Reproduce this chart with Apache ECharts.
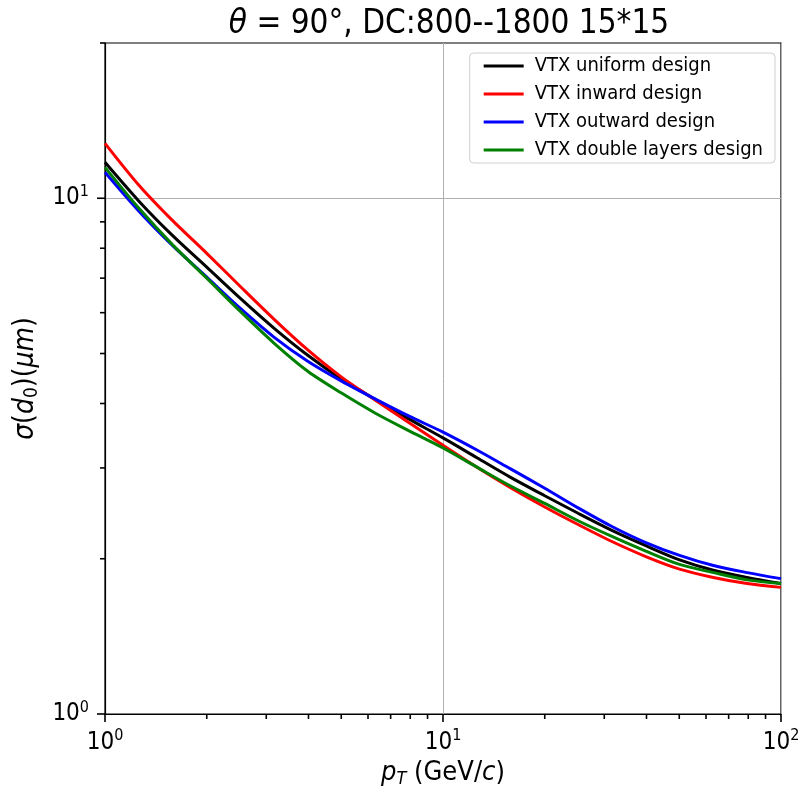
<!DOCTYPE html>
<html lang="en">
<head>
  <meta charset="utf-8">
  <title>sigma d0 vs pT</title>
  <script type="text/javascript" src="https://fastly.jsdelivr.net/npm/echarts@6/dist/echarts.min.js"></script>
  <style type="text/css">
    * { margin: 0; padding: 0; }
    html, body, #chart { width: 100%; height: 100%; overflow: hidden; background: #fff; }
  </style>
</head>
<body>
  <div id="chart"></div>
  <script type="text/javascript">
    // values (log-log), 10 points per decade
    const pT = [1, 1.26, 1.58, 2, 2.51, 3.16, 3.98, 5.01, 6.31, 7.94, 10, 12.6, 15.8, 20, 25.1, 31.6, 39.8, 50.1, 63.1, 79.4, 100];
    const uniformDesign = [11.74, 9.87, 8.48, 7.35, 6.40, 5.60, 4.96, 4.46, 4.07, 3.73, 3.43, 3.14, 2.88, 2.65, 2.45, 2.27, 2.12, 1.99, 1.90, 1.84, 1.79];
    const inwardDesign  = [12.78, 10.60, 9.07, 7.82, 6.75, 5.83, 5.08, 4.50, 4.06, 3.67, 3.32, 3.01, 2.75, 2.52, 2.33, 2.16, 2.02, 1.91, 1.84, 1.79, 1.76];
    const outwardDesign = [11.23, 9.44, 8.11, 7.03, 6.12, 5.38, 4.83, 4.42, 4.08, 3.78, 3.52, 3.25, 2.99, 2.74, 2.51, 2.31, 2.15, 2.03, 1.94, 1.88, 1.83];
    const doubleDesign  = [11.48, 9.56, 8.14, 7.00, 6.04, 5.24, 4.62, 4.19, 3.83, 3.54, 3.28, 3.01, 2.77, 2.56, 2.37, 2.21, 2.07, 1.95, 1.88, 1.82, 1.79];

    const seriesNames = ['VTX uniform design', 'VTX inward design', 'VTX outward design', 'VTX double layers design'];
    const seriesColors = ['#000000', '#ff0000', '#0000ff', '#008000'];

    const xMajorTicks = [1, 10, 100];
    const xMinorTicks = [2, 3, 4, 5, 6, 7, 8, 9, 20, 30, 40, 50, 60, 70, 80, 90];
    const yMajorTicks = [1, 10];
    const yMinorTicks = [2, 3, 4, 5, 6, 7, 8, 9, 20];

    const font = 'DejaVu Sans Condensed';

    function pairs(ys) {
      return pT.map((x, i) => [x, ys[i]]);
    }

    // 10^n labels with a raised exponent
    function powLabel(v) {
      return '{b|10}{s|' + Math.round(Math.log10(v)) + '}';
    }
    const powRich = {
      b: { fontSize: 24, fontFamily: font, color: '#000' },
      s: { fontSize: 16, fontFamily: font, color: '#000', padding: [0, 0, 13, 0] }
    };

    const allData = [uniformDesign, inwardDesign, outwardDesign, doubleDesign];
    const series = allData.map((d, i) => ({
      name: seriesNames[i],
      type: 'line',
      data: pairs(d),
      smooth: 0.3,
      showSymbol: false,
      symbol: 'none',
      lineStyle: { color: seriesColors[i], width: 3 },
      itemStyle: { color: seriesColors[i] },
      z: 3 + i
    }));

    const option = {
      animation: false,
      backgroundColor: '#fff',
      title: {
        text: '{i|θ} = 90°, DC:800--1800 15*15',
        left: 444,
        top: 3,
        textAlign: 'center',
        textStyle: {
          fontFamily: font, fontSize: 33, fontWeight: 'normal', color: '#000',
          rich: {
            i: { fontFamily: font, fontSize: 33, fontStyle: 'italic', color: '#000' }
          }
        }
      },
      legend: {
        data: seriesNames,
        orient: 'vertical',
        right: 30,
        top: 53,
        icon: 'rect',
        itemWidth: 40,
        itemHeight: 3,
        itemGap: 8,
        padding: [3, 12, 3, 14],
        borderColor: '#d0d0d0',
        borderWidth: 1,
        borderRadius: 4,
        backgroundColor: 'rgba(255,255,255,0.8)',
        textStyle: { fontFamily: font, fontSize: 20, color: '#000', padding: [0, 0, 0, 6] }
      },
      grid: {
        left: 105, right: 24, top: 43, bottom: 75,
        outerBoundsMode: 'none',
        containLabel: false,
        show: true, borderColor: '#000', borderWidth: 1.2, backgroundColor: 'transparent'
      },
      xAxis: {
        type: 'log', logBase: 10, min: 1, max: 100,
        name: '{i|p}{sub|T} (GeV/{i|c})',
        nameLocation: 'middle',
        nameGap: 44,
        nameTextStyle: {
          fontFamily: font, fontSize: 27, color: '#000',
          rich: {
            i: { fontFamily: font, fontSize: 27, fontStyle: 'italic', color: '#000' },
            sub: { fontFamily: font, fontSize: 18, fontStyle: 'italic', color: '#000', padding: [12, 0, 0, 0] }
          }
        },
        axisLine: { show: true, lineStyle: { color: '#000', width: 1.2 } },
        axisTick: { show: false, customValues: xMajorTicks },
        axisLabel: { customValues: xMajorTicks, formatter: powLabel, rich: powRich, margin: 14, hideOverlap: false },
        splitLine: { show: true, lineStyle: { color: '#b0b0b0', width: 1 } }
      },
      yAxis: {
        type: 'log', logBase: 10, min: 1, max: 20,
        name: '{i|σ}({i|d}{sub|0})({i|μm})',
        nameLocation: 'middle',
        nameRotate: 90,
        nameGap: 46,
        nameTextStyle: {
          fontFamily: font, fontSize: 28, color: '#000',
          rich: {
            i: { fontFamily: font, fontSize: 28, fontStyle: 'italic', color: '#000' },
            sub: { fontFamily: font, fontSize: 19, color: '#000', padding: [12, 0, 0, 0] }
          }
        },
        axisLine: { show: true, lineStyle: { color: '#000', width: 1.2 } },
        axisTick: { show: false, customValues: yMajorTicks },
        axisLabel: { customValues: yMajorTicks, formatter: powLabel, rich: powRich, margin: 16, hideOverlap: false },
        splitLine: { show: true, lineStyle: { color: '#b0b0b0', width: 1 } }
      },
      series: series
    };

    const chart = echarts.init(document.getElementById('chart'));
    chart.setOption(option);

    // tick marks placed through the chart's own log scales
    const tickEls = [];
    function addXTicks(values, len) {
      values.forEach(v => {
        const p = chart.convertToPixel({ gridIndex: 0 }, [v, 1]);
        tickEls.push({ type: 'line', silent: true, z: 100,
          shape: { x1: p[0], y1: p[1], x2: p[0], y2: p[1] + len },
          style: { stroke: '#000', lineWidth: 1.6 } });
      });
    }
    function addYTicks(values, len) {
      values.forEach(v => {
        const p = chart.convertToPixel({ gridIndex: 0 }, [1, v]);
        tickEls.push({ type: 'line', silent: true, z: 100,
          shape: { x1: p[0] - len, y1: p[1], x2: p[0], y2: p[1] },
          style: { stroke: '#000', lineWidth: 1.6 } });
      });
    }
    addXTicks(xMajorTicks, 8);
    addXTicks(xMinorTicks, 5);
    addYTicks(yMajorTicks, 8);
    addYTicks(yMinorTicks, 5);
    chart.setOption({ graphic: tickEls });
  </script>
</body>
</html>
